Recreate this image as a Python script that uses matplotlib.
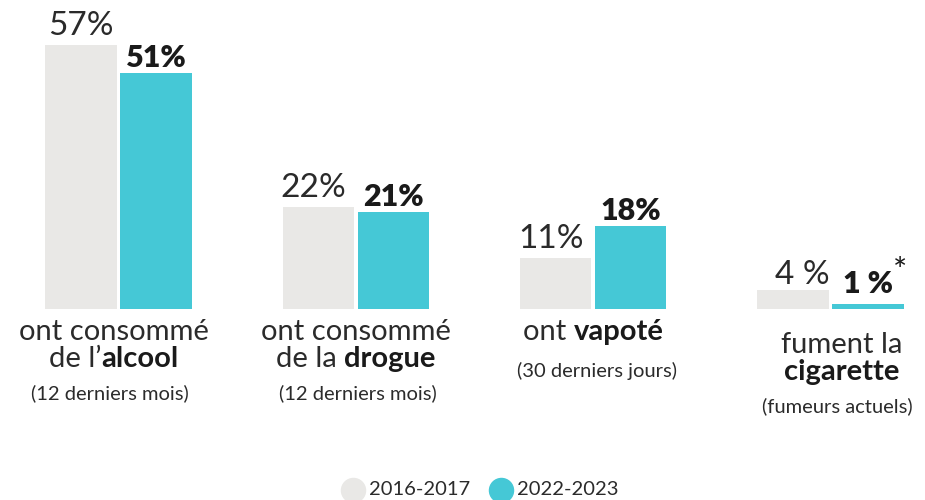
import matplotlib.pyplot as plt
import numpy as np

# data
categories = ["alcool", "drogue", "vapoté", "cigarette"]
years = ["2016-2017", "2022-2023"]
values_2016 = [57, 22, 11, 4]
values_2022 = [51, 21, 18, 1]
labels_2016 = ["57%", "22%", "11%", "4 %"]
labels_2022 = ["51%", "21%", "18%", "1 %"]

# (lines of (text, weight) parts) per category
cat_lines = [
    [[("ont consommé", "normal")], [("de l’", "normal"), ("alcool", "bold")]],
    [[("ont consommé", "normal")], [("de la ", "normal"), ("drogue", "bold")]],
    [[("ont ", "normal"), ("vapoté", "bold")]],
    [[("fument la", "normal")], [("cigarette", "bold")]],
]
cat_notes = ["(12 derniers mois)", "(12 derniers mois)", "(30 derniers jours)", "(fumeurs actuels)"]

GREY = "#e9e8e6"
TEAL = "#45c8d6"
DARK = "#2b2b2b"

plt.rcParams["font.family"] = ["Lato", "DejaVu Sans"]

fig = plt.figure(figsize=(9.25, 5), dpi=100)
ax = fig.add_axes([0, 0, 1, 1])
ax.set_xlim(-0.4993, 3.398)
ax.set_ylim(-41.25, 66.74)
ax.axis("off")

x = np.arange(len(categories))
w = 0.3
off = 0.158
ax.bar(x - off, values_2016, width=w, color=GREY)
ax.bar(x + off, values_2022, width=w, color=TEAL)

grey_nudge = [0.0, -0.02, -0.02, 0.04]
grey_lift = [0.8, 0.8, 0.8, 0.2]
teal_lift = [0.2, 0.2, 0.2, 1.4]
for i in range(len(categories)):
    ax.text(x[i] - off + grey_nudge[i], values_2016[i] + grey_lift[i], labels_2016[i],
            ha="center", va="bottom", fontsize=24, fontweight="normal", color="#2a2a2a")
    ax.text(x[i] + off, values_2022[i] + teal_lift[i], labels_2022[i], ha="center",
            va="bottom", fontsize=22, fontweight="heavy", color="#1a1a1a")
ax.text(x[3] + off + 0.135, values_2022[3] + 7.0, "*", ha="center", va="center",
        fontsize=24, color="#1a1a1a")

fig.canvas.draw()
renderer = fig.canvas.get_renderer()
px_unit = ax.transData.transform((1, 0))[0] - ax.transData.transform((0, 0))[0]


def rich_line(xc, y, parts, size):
    objs = []
    for s, wt in parts:
        t = ax.text(xc, y, s, fontsize=size, fontweight=wt, ha="left", va="center",
                    color=DARK if wt == "normal" else "#1a1a1a")
        objs.append(t)
    widths = [t.get_window_extent(renderer).width for t in objs]
    start = xc - sum(widths) / 2 / px_unit
    for t, wd in zip(objs, widths):
        t.set_x(start)
        start += wd / px_unit


line_y = {0: [-5.0, -10.7], 1: [-5.0, -10.7], 2: [-4.9], 3: [-7.8, -13.6]}
line_nudge = [-0.02, 0.0, 0.0, 0.045]
note_y = [-18.1, -18.1, -13.4, -21.0]
note_nudge = [-0.035, 0.01, 0.015, 0.03]
for i, lines in enumerate(cat_lines):
    for j, parts in enumerate(lines):
        rich_line(x[i] + line_nudge[i], line_y[i][j], parts, 21)
    ax.text(x[i] + note_nudge[i], note_y[i], cat_notes[i], ha="center", va="center",
            fontsize=14.5, color=DARK)

# legend
leg_y = -39.0
for xs, col, lab in [(0.99, GREY, years[0]), (1.613, TEAL, years[1])]:
    ax.scatter([xs], [leg_y], s=300, color=col, clip_on=False)
    ax.text(xs + 0.065, leg_y, lab, ha="left", va="center", fontsize=14.5, color=DARK)

fig.savefig("out.png", dpi=100)
